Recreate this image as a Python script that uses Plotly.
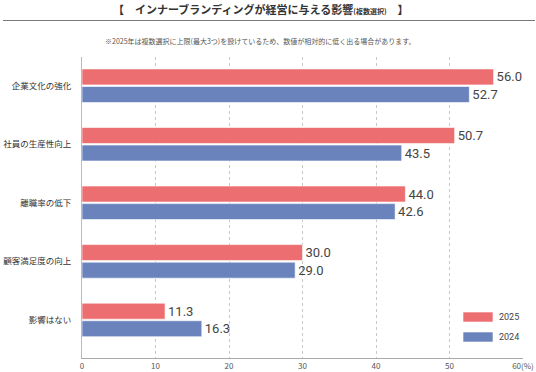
import plotly.graph_objects as go

categories = ["企業文化の強化", "社員の生産性向上", "離職率の低下", "顧客満足度の向上", "影響はない"]
values_2025 = [56.0, 50.7, 44.0, 30.0, 11.3]
values_2024 = [52.7, 43.5, 42.6, 29.0, 16.3]
series_names = ["2025", "2024"]
x_ticks = [0, 10, 20, 30, 40, 50, 60]
x_tick_labels = ["0", "10", "20", "30", "40", "50", "60(%)"]

RED = "#EC6E70"
BLUE = "#6A83BD"
JP = "Noto Sans CJK JP"

fig = go.Figure()
for name, vals, col in [(series_names[0], values_2025, RED), (series_names[1], values_2024, BLUE)]:
    fig.add_trace(go.Bar(
        y=categories, x=vals, orientation="h", name=name,
        marker=dict(color=col, line=dict(color="rgba(255,255,255,0.6)", width=1)),
        text=[f"{v:.1f}" for v in vals], textposition="outside",
        textfont=dict(family="Roboto", size=13, color="#444"),
        cliponaxis=False, showlegend=False,
    ))

fig.update_layout(
    width=536, height=372,
    margin=dict(l=82, r=13, t=57, b=14, autoexpand=False),
    paper_bgcolor="white", plot_bgcolor="white",
    barmode="group", bargap=0.4, bargroupgap=0.09,
    xaxis=dict(range=[0, 60], tickvals=x_ticks, ticktext=x_tick_labels,
               showgrid=True, gridcolor="#c8c8c8", griddash="dot", gridwidth=1,
               zeroline=False, showline=True, linecolor="#aaa", linewidth=1,
               ticks="", automargin=False,
               tickfont=dict(family=JP, size=8, color="#555")),
    yaxis=dict(type="category", range=[4.65, -0.49], showgrid=False,
               showline=True, linecolor="#bbb", linewidth=1, ticks="",
               ticklabelstandoff=8, automargin=False,
               tickfont=dict(family=JP, size=8.5, color="#333")),
    font=dict(family=JP),
)

# Title, divider, note
fig.add_annotation(xref="paper", yref="paper", x=0.5, y=1, yanchor="middle",
                   xshift=-42, yshift=57 - 9, showarrow=False,
                   text="<b>【　インナーブランディングが経営に与える影響<span style='font-size:7px'>(複数選択)</span>　】</b>",
                   font=dict(family=JP, size=11, color="#333"))
div_y = 1 + (57 - 20.5) / 301
fig.add_annotation(xref="paper", yref="paper", x=(536 - 82) / 441, y=div_y,
                   text=" ", showarrow=True, arrowhead=0, arrowwidth=1,
                   arrowcolor="#7a7a7a", ax=-540, ay=0, standoff=0, startstandoff=0)
fig.add_annotation(xref="paper", yref="paper", x=0.5, y=1, yanchor="middle",
                   xshift=-43, yshift=57 - 41, showarrow=False,
                   text="※2025年は複数選択に上限(最大3つ)を設けているため、数値が相対的に低く出る場合があります。",
                   font=dict(family=JP, size=7, color="#555"))

# Legend (manual)
for i, (name, col) in enumerate([(series_names[0], RED), (series_names[1], BLUE)]):
    ytop = 312 + 20 * i
    fig.add_shape(type="rect", xref="paper", yref="paper",
                  x0=(463 - 82) / 441, x1=(493 - 82) / 441,
                  y0=(358 - ytop) / 301, y1=(358 - ytop - 10) / 301,
                  fillcolor=col, line=dict(color="rgba(255,255,255,0.6)", width=1))
    fig.add_annotation(xref="paper", yref="paper", x=(497 - 82) / 441,
                       y=(358 - ytop - 5) / 301, xanchor="left", yanchor="middle",
                       showarrow=False, text=name,
                       font=dict(family="Roboto", size=9, color="#444"))

fig.write_html("out.html", config={"displayModeBar": False},
               post_script="document.body.style.margin='0';document.body.style.overflow='hidden';")
